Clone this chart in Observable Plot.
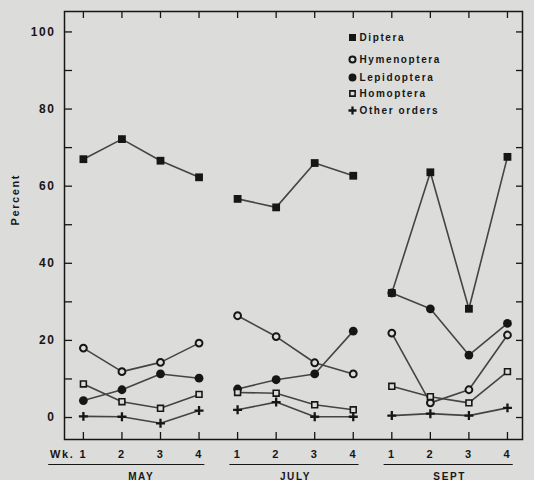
<!DOCTYPE html>
<html><head><meta charset="utf-8">
<script src="https://cdn.jsdelivr.net/npm/d3@7"></script>
<script src="https://cdn.jsdelivr.net/npm/@observablehq/plot@0.6"></script>
<style>
html,body{margin:0;padding:0;background:#dcdcda;}
#chart svg{display:block;}
</style></head><body><div id="chart"></div>
<script>
// ---- data ----
const months = ["MAY", "JULY", "SEPT"];
const weeks = [1, 2, 3, 4];
const seriesNames = ["Diptera", "Hymenoptera", "Lepidoptera", "Homoptera", "Other orders"];
const diptera     = [67.0, 72.2, 66.6, 62.3,  56.7, 54.5, 66.0, 62.7,  32.3, 63.6, 28.2, 67.6];
const hymenoptera = [18.0, 11.9, 14.3, 19.3,  26.4, 21.0, 14.2, 11.3,  21.9,  3.8,  7.2, 21.4];
const lepidoptera = [ 4.4,  7.2, 11.3, 10.2,   7.4,  9.8, 11.3, 22.4,  32.3, 28.2, 16.2, 24.4];
const homoptera   = [ 8.7,  4.1,  2.4,  6.0,   6.5,  6.3,  3.3,  2.0,   8.1,  5.4,  3.8, 11.9];
const otherOrders = [ 0.3,  0.2, -1.5,  1.8,   2.0,  4.0,  0.2,  0.2,   0.5,  1.0,  0.5,  2.5];
const yTicks = [0, 20, 40, 60, 80, 100];
const yTickMarks = [0, 10, 20, 30, 40, 50, 60, 70, 80, 90, 100];
const yLabel = "Percent";
const weekPrefix = "Wk.";

// ---- table ----
const seriesValues = [diptera, hymenoptera, lepidoptera, homoptera, otherOrders];
const rows = [];
seriesNames.forEach((s, si) => seriesValues[si].forEach((v, i) => rows.push({
  series: s, month: months[Math.floor(i / weeks.length)], week: weeks[i % weeks.length], idx: i, value: v
})));
const slots = months.flatMap((m, mi) => weeks.map((w, wi) => ({month: m, week: w, idx: mi * weeks.length + wi})));
const monthInfo = months.map((m, mi) => ({month: m, first: mi * weeks.length, last: mi * weeks.length + weeks.length - 1}));

// ---- styles ----
const bg = "#dcdcda", ink = "#161616", lineInk = "#444";
const sym = {
  "Diptera":      {symbol: "square", fill: ink, stroke: "none", r: 4.4, sw: 0},
  "Hymenoptera":  {symbol: "circle", fill: bg, stroke: ink, r: 3.4, sw: 2.0},
  "Lepidoptera":  {symbol: "circle", fill: ink, stroke: "none", r: 4.4, sw: 0},
  "Homoptera":    {symbol: "square", fill: bg, stroke: ink, r: 3.3, sw: 1.6},
  "Other orders": {symbol: "plus", fill: "none", stroke: ink, r: 3.0, sw: 2.3}
};
const legendDy = [26, 48, 66, 82, 99];

const W = 534, H = 480, mL = 64, mR = 12, mT = 11, mB = 41;
const fw = W - mL - mR, fh = H - mT - mB;

const dotMarks = seriesNames.map(s => Plot.dot(rows.filter(d => d.series === s), {
  x: "idx", y: "value", symbol: () => sym[s].symbol, r: sym[s].r,
  fill: sym[s].fill, stroke: sym[s].stroke, strokeWidth: sym[s].sw
}));
const legendMarks = seriesNames.flatMap((s, i) => [
  Plot.dot([s], {frameAnchor: "top-left", dx: 288, dy: legendDy[i], symbol: () => sym[s].symbol,
    r: sym[s].r * 0.9, fill: sym[s].fill, stroke: sym[s].stroke, strokeWidth: sym[s].sw}),
  Plot.text([s], {frameAnchor: "top-left", dx: 295, dy: legendDy[i], text: d => d, textAnchor: "start",
    lineAnchor: "middle", fontSize: 10, fill: ink})
]);

const chart = Plot.plot({
  width: W, height: H,
  marginLeft: mL, marginRight: mR, marginTop: mT, marginBottom: mB,
  x: {type: "linear", domain: [-0.49, 11.39], axis: null},
  y: {domain: [-5.7, 105.3], axis: null},
  style: {background: bg, fontFamily: "'Liberation Sans', Arial, sans-serif", fontWeight: "bold",
          letterSpacing: "1.6px", color: ink, overflow: "visible"},
  marks: [
    // inward ticks
    Plot.tickY(yTickMarks, {y: d => d, insetRight: fw - 8, stroke: ink, strokeWidth: 1.3}),
    Plot.tickY(yTickMarks, {y: d => d, insetLeft: fw - 6, stroke: ink, strokeWidth: 1.3}),
    Plot.tickX(slots, {x: "idx", insetTop: fh - 7, stroke: ink, strokeWidth: 1.3}),
    Plot.tickX(slots, {x: "idx", insetBottom: fh - 7, stroke: ink, strokeWidth: 1.3}),
    Plot.frame({stroke: ink, strokeWidth: 1.5}),
    Plot.axisY(yTicks, {anchor: "left", tickSize: 0, tickPadding: 9, fontSize: 12, label: null, fill: ink}),
    Plot.text([yLabel], {frameAnchor: "left", rotate: -90, dx: -49, fontSize: 11, fill: ink, text: d => d}),
    // x labels
    Plot.text(slots, {x: "idx", frameAnchor: "bottom", dy: 18, text: "week", fontSize: 11, fill: ink}),
    Plot.text([weekPrefix], {x: () => 0, frameAnchor: "bottom", dy: 18, dx: -9, textAnchor: "end", text: d => d, fontSize: 11, fill: ink}),
    Plot.ruleY(monthInfo, {y: () => -5.7, dy: 25, x1: d => d.first === 0 ? d.first - 0.9 : d.first - 0.2, x2: d => d.last + 0.15, stroke: ink, strokeWidth: 1.2}),
    Plot.text(monthInfo, {x: d => (d.first + d.last) / 2, frameAnchor: "bottom", dy: 40, text: "month", fontSize: 10, fill: ink}),
    // data
    Plot.line(rows, {x: "idx", y: "value", z: d => d.series + "|" + d.month, stroke: lineInk, strokeWidth: 1.6}),
    ...dotMarks,
    ...legendMarks
  ]
});
document.getElementById("chart").appendChild(chart);
</script>
</body></html>
